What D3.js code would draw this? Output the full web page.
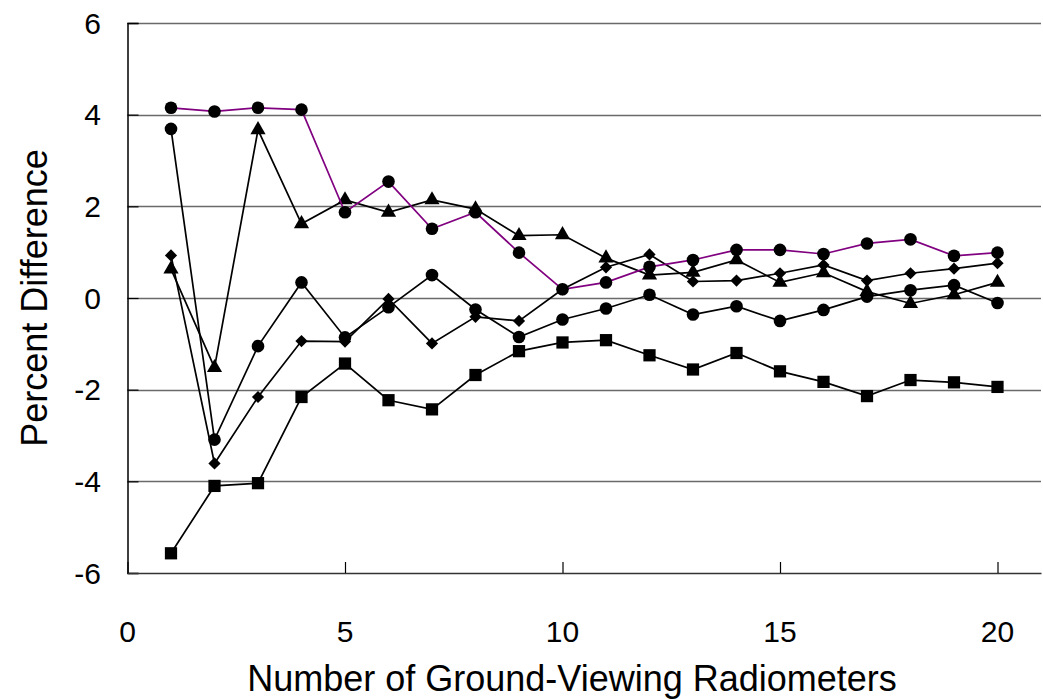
<!DOCTYPE html>
<html>
<head>
<meta charset="utf-8">
<script src="https://cdn.jsdelivr.net/npm/d3@7"></script>
<style>
  body { margin: 0; background: #fff; }
  text { font-family: "Liberation Sans", Arial, sans-serif; }
</style>
</head>
<body>
<div id="chart"></div>
<script>
// number of radiometers
let counts = d3.range(1, 21);

// percent difference per series
let purpleCircles = [4.15, 4.07, 4.15, 4.11, 1.87, 2.54, 1.51, 1.87, 0.99, 0.19, 0.34, 0.68, 0.83, 1.05, 1.05, 0.96, 1.19, 1.28, 0.92, 0.99];
let blackCircles = [3.69, -3.09, -1.05, 0.34, -0.86, -0.2, 0.5, -0.25, -0.85, -0.47, -0.23, 0.07, -0.36, -0.18, -0.5, -0.26, 0.03, 0.17, 0.28, -0.11];
let triangles = [0.63, -1.52, 3.67, 1.62, 2.14, 1.87, 2.14, 1.94, 1.36, 1.38, 0.87, 0.5, 0.56, 0.83, 0.34, 0.55, 0.14, -0.12, 0.07, 0.34];
let diamonds = [0.93, -3.61, -2.16, -0.94, -0.95, -0.02, -0.99, -0.41, -0.5, 0.19, 0.67, 0.95, 0.36, 0.38, 0.54, 0.72, 0.38, 0.54, 0.64, 0.76];
let squares = [-5.57, -4.1, -4.04, -2.16, -1.43, -2.23, -2.43, -1.68, -1.16, -0.97, -0.92, -1.25, -1.56, -1.2, -1.6, -1.83, -2.14, -1.79, -1.84, -1.94];

let xTicks = [0, 5, 10, 15, 20];
let yTicks = [-6, -4, -2, 0, 2, 4, 6];

let series = [
  {name: "squares", values: squares, symbol: d3.symbolSquare, size: 150, color: "#000"},
  {name: "diamonds", values: diamonds, symbol: d3.symbolDiamond2, size: 95, color: "#000"},
  {name: "blackCircles", values: blackCircles, symbol: d3.symbolCircle, size: 125, color: "#000"},
  {name: "triangles", values: triangles, symbol: d3.symbolTriangle, size: 100, color: "#000"},
  {name: "purpleCircles", values: purpleCircles, symbol: d3.symbolCircle, size: 125, color: "#800080"}
];

let width = 1043, height = 699;
let margin = {left: 127.5, top: 23, right: 2, bottom: 126};

let svg = d3.select("#chart").append("svg")
  .attr("width", width)
  .attr("height", height);

let x = d3.scaleLinear().domain([0, 21]).range([margin.left, width - margin.right]);
let y = d3.scaleLinear().domain([-6, 6]).range([height - margin.bottom, margin.top]);

// gridlines
svg.append("g").selectAll("line")
  .data(yTicks.filter(d => d > -6))
  .enter().append("line")
    .attr("x1", margin.left)
    .attr("x2", width - margin.right)
    .attr("y1", d => Math.round(y(d)) + 0.5)
    .attr("y2", d => Math.round(y(d)) + 0.5)
    .attr("stroke", "#6a6a6a")
    .attr("stroke-width", 1.3);

// y axis with inward ticks
let yAxis = svg.append("g")
  .attr("transform", "translate(" + margin.left + ",0)")
  .call(d3.axisRight(y).tickValues(yTicks).tickSize(11).tickFormat(""));
yAxis.select(".domain").attr("stroke", "#000").attr("stroke-width", 1.5);
yAxis.selectAll(".tick line").attr("stroke", "#000").attr("stroke-width", 1.2);

svg.append("g").selectAll("text")
  .data(yTicks)
  .enter().append("text")
    .attr("x", 101)
    .attr("y", d => y(d))
    .attr("dy", "0.36em")
    .attr("text-anchor", "end")
    .style("font-size", "30px")
    .text(d => d);

// x axis with inward ticks
let xAxis = svg.append("g")
  .attr("transform", "translate(0," + y(-6) + ")")
  .call(d3.axisTop(x).tickValues(xTicks).tickSize(11).tickSizeOuter(0).tickFormat(""));
xAxis.select(".domain").attr("stroke", "#333").attr("stroke-width", 1.5);
xAxis.selectAll(".tick line").attr("stroke", "#000").attr("stroke-width", 1.2);

svg.append("g").selectAll("text")
  .data(xTicks)
  .enter().append("text")
    .attr("x", d => x(d))
    .attr("y", 642)
    .attr("text-anchor", "middle")
    .style("font-size", "30px")
    .text(d => d);

// axis titles
svg.append("text")
  .attr("x", 572)
  .attr("y", 691)
  .attr("text-anchor", "middle")
  .style("font-size", "36px")
  .text("Number of Ground-Viewing Radiometers");

svg.append("text")
  .attr("transform", "translate(47," + y(0) + ") rotate(-90)")
  .attr("text-anchor", "middle")
  .style("font-size", "36px")
  .text("Percent Difference");

// lines and markers
let line = d3.line()
  .x((d, i) => x(counts[i]))
  .y(d => y(d));

let groups = svg.append("g").selectAll("g")
  .data(series)
  .enter().append("g");

groups.append("path")
  .attr("d", d => line(d.values))
  .attr("fill", "none")
  .attr("stroke", d => d.color)
  .attr("stroke-width", 1.7);

groups.each(function(s) {
  let sym = d3.symbol().type(s.symbol).size(s.size);
  d3.select(this).selectAll(".mark")
    .data(s.values)
    .enter().append("path")
      .attr("class", "mark")
      .attr("transform", (d, i) => "translate(" + x(counts[i]) + "," + y(d) + ")")
      .attr("d", sym)
      .attr("fill", "#000");
});
</script>
</body>
</html>
